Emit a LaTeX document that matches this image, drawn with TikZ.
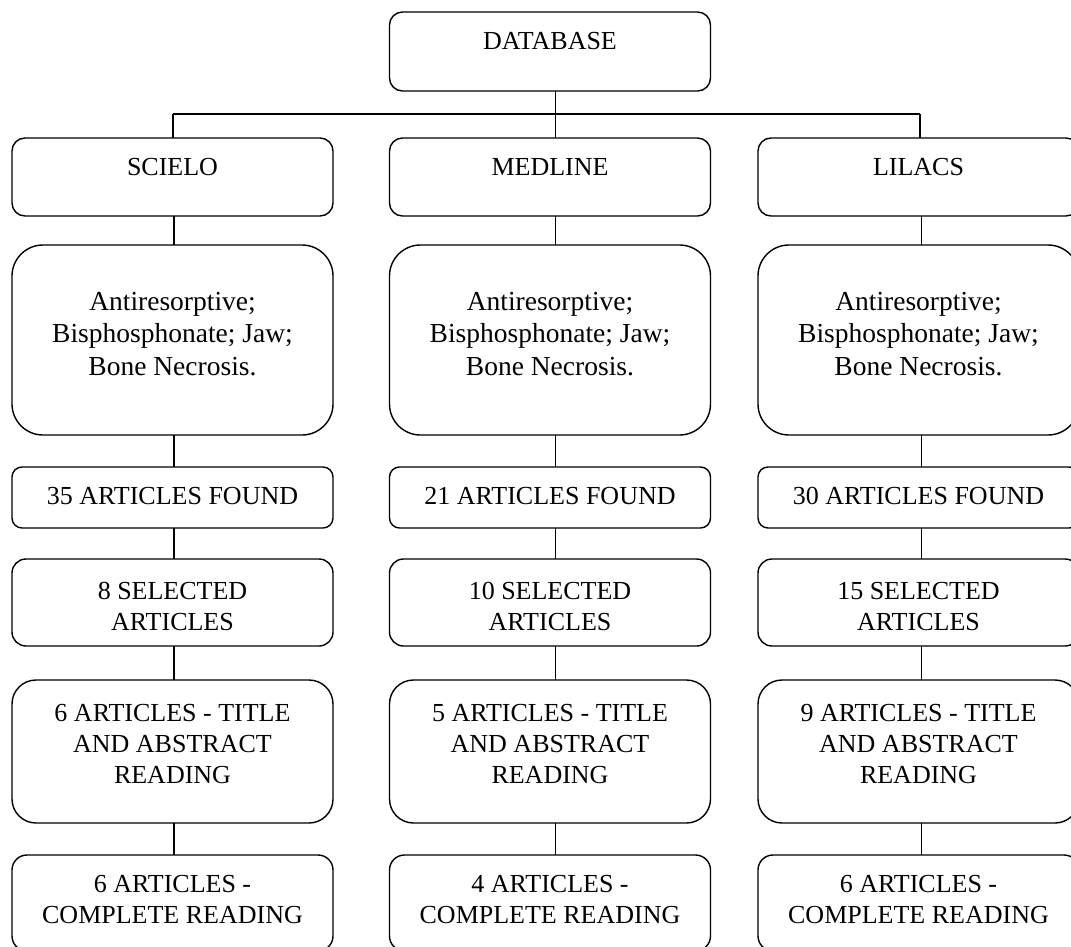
\documentclass[tikz,border=0pt]{standalone}
\usepackage{fontspec}
\setmainfont{Liberation Serif}
\begin{document}
\begin{tikzpicture}[x=1pt,y=-1pt,
  box/.style={draw=black, line width=1.4pt, inner sep=0pt, outer sep=0pt, minimum width=321pt},
  conn/.style={draw=black, line width=1.4pt},
  capstxt/.style={inner sep=0pt, anchor=north, align=center, font=\fontsize{26}{31}\selectfont},
  kwtxt/.style={inner sep=0pt, anchor=north, align=center, font=\fontsize{27.5}{32.5}\selectfont}]
\useasboundingbox (0,0) rectangle (1071,947);
\clip (0,0) rectangle (1071,947);

% top box
\node[box, rounded corners=13pt, minimum height=79pt] (db) at (550,51.5) {};
\node[capstxt] (dbt) at (550,32) {DATABASE};

% row 1
\node[box, rounded corners=13pt, minimum height=78pt] (scielo) at (172.5,177) {};
\node[box, rounded corners=13pt, minimum height=78pt] (medline) at (550,177) {};
\node[box, rounded corners=13pt, minimum height=78pt] (lilacs) at (918.5,177) {};
\node[capstxt] (scielot) at (172.5,158) {SCIELO};
\node[capstxt] (medlinet) at (550,158) {MEDLINE};
\node[capstxt] (lilacst) at (918.5,158) {LILACS};

% keywords
\foreach \c/\x in {l/172.5, m/550, r/918.5}{
  \node[box, rounded corners=31pt, minimum height=190pt] (kw\c) at (\x,340) {};
  \node[kwtxt] (kw\c t) at (\x,292) {Antiresorptive;\\Bisphosphonate; Jaw;\\Bone Necrosis.};
  \node[box, rounded corners=10pt, minimum height=61pt] (fd\c) at (\x,497.5) {};
  \node[box, rounded corners=14pt, minimum height=87pt] (sel\c) at (\x,602.5) {};
  \node[box, rounded corners=24pt, minimum height=143pt] (ti\c) at (\x,751.5) {};
  \node[box, rounded corners=15pt, minimum height=96pt] (co\c) at (\x,903) {};
}

\node[capstxt] (fdlt) at (172.5,487) {35 ARTICLES FOUND};
\node[capstxt] (fdmt) at (550,487) {21 ARTICLES FOUND};
\node[capstxt] (fdrt) at (918.5,487) {30 ARTICLES FOUND};

\node[capstxt] (sellt) at (172.5,582) {8 SELECTED\\ARTICLES};
\node[capstxt] (selmt) at (550,582) {10 SELECTED\\ARTICLES};
\node[capstxt] (selrt) at (918.5,582) {15 SELECTED\\ARTICLES};

\node[capstxt] (tilt) at (172.5,704) {6 ARTICLES - TITLE\\AND ABSTRACT\\READING};
\node[capstxt] (timt) at (550,704) {5 ARTICLES - TITLE\\AND ABSTRACT\\READING};
\node[capstxt] (tirt) at (918.5,704) {9 ARTICLES - TITLE\\AND ABSTRACT\\READING};

\node[capstxt] (colt) at (172.5,875) {6 ARTICLES -\\COMPLETE READING};
\node[capstxt] (comt) at (550,875) {4 ARTICLES -\\COMPLETE READING};
\node[capstxt] (cort) at (918.5,875) {6 ARTICLES -\\COMPLETE READING};

% tree connectors
\coordinate (jl) at (173,114);
\coordinate (jr) at (920,114);
\draw[conn] ([xshift=5.5pt]db.south) -- ([xshift=5.5pt]medline.north);
\draw[conn] (jl) -- (jr);
\draw[conn] (jl) -- (jl |- scielo.north);
\draw[conn] (jr) -- (jr |- lilacs.north);

% column connectors
\foreach \c/\s in {l/1.5, m/5.5, r/3}{
  \draw[conn] ([xshift=\s pt]fd\c.south) -- ([xshift=\s pt]sel\c.north);
  \draw[conn] ([xshift=\s pt]kw\c.south) -- ([xshift=\s pt]fd\c.north);
  \draw[conn] ([xshift=\s pt]sel\c.south) -- ([xshift=\s pt]ti\c.north);
  \draw[conn] ([xshift=\s pt]ti\c.south) -- ([xshift=\s pt]co\c.north);
}
\draw[conn] ([xshift=1.5pt]scielo.south) -- ([xshift=1.5pt]kwl.north);
\draw[conn] ([xshift=5.5pt]medline.south) -- ([xshift=5.5pt]kwm.north);
\draw[conn] ([xshift=3pt]lilacs.south) -- ([xshift=3pt]kwr.north);
\end{tikzpicture}
\end{document}
